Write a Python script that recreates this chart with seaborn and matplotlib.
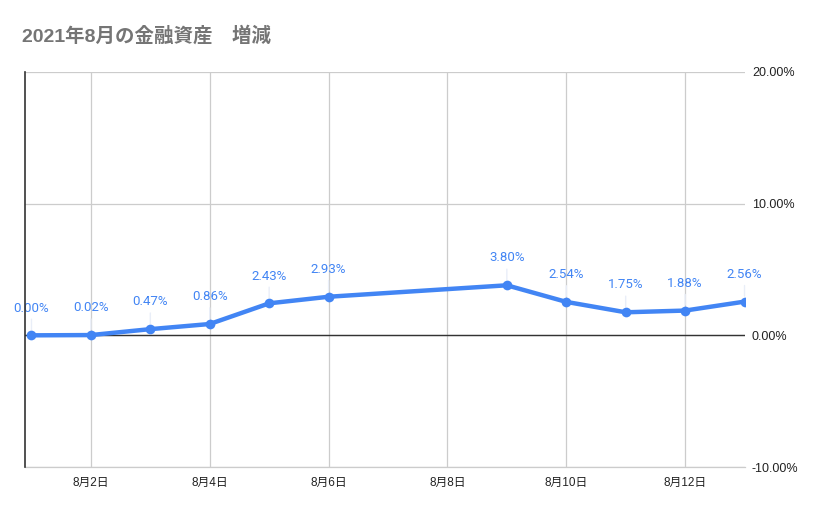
import pandas as pd
import matplotlib
matplotlib.use('Agg')
import matplotlib.pyplot as plt
import matplotlib.dates as mdates
import matplotlib.ticker as mticker
import seaborn as sns

# 2021年8月 金融資産の増減率 (%)
dates = ['2021-08-01', '2021-08-02', '2021-08-03', '2021-08-04', '2021-08-05',
         '2021-08-06', '2021-08-09', '2021-08-10', '2021-08-11', '2021-08-12',
         '2021-08-13']
changes = [0.00, 0.02, 0.47, 0.86, 2.43, 2.93, 3.80, 2.54, 1.75, 1.88, 2.56]
y_ticks = [-10, 0, 10, 20]

df = pd.DataFrame({'date': pd.to_datetime(dates), 'change': changes})

sns.set_style('white')
plt.rcParams['font.family'] = ['Liberation Sans', 'Noto Sans CJK JP']
plt.rcParams['axes.unicode_minus'] = False

blue = '#4285f4'
fig = plt.figure(figsize=(8.29, 5.14), dpi=100)
ax = fig.add_axes([0.0302, 0.0914, 0.8685, 0.7686])

sns.lineplot(data=df, x='date', y='change', ax=ax, color=blue, linewidth=3.2,
             marker='o', markersize=7, markeredgewidth=0, zorder=5)

for d, v in zip(df['date'], df['change']):
    ax.annotate(f'{v:.2f}%', xy=(d, v), xytext=(0, 15), textcoords='offset points',
                ha='center', va='bottom', color=blue, fontsize=9.5,
                family=['Roboto', 'DejaVu Sans'],
                arrowprops=dict(arrowstyle='-', color='#e9eef8', lw=1,
                                shrinkA=1, shrinkB=4))

ax.set_xlim(pd.Timestamp('2021-08-01') - pd.Timedelta(hours=2.6),
            pd.Timestamp('2021-08-13') + pd.Timedelta(hours=0.2))
ax.set_ylim(-10, 20)
ax.set_yticks(y_ticks)
ax.yaxis.set_major_formatter(mticker.FuncFormatter(lambda v, p: f'{v:.2f}%'))
ax.yaxis.tick_right()
ax.xaxis.set_major_locator(mdates.DayLocator(bymonthday=[2, 4, 6, 8, 10, 12]))
ax.xaxis.set_major_formatter(mticker.FuncFormatter(
    lambda v, p: f'{mdates.num2date(v).month}月{mdates.num2date(v).day}日'))
ax.tick_params(axis='both', length=0, labelsize=9, colors='#222222')
ax.tick_params(axis='x', labelsize=8.5, pad=7)
ax.tick_params(axis='y', pad=5)

ax.grid(True, color='#cccccc', linewidth=0.9)
ax.axhline(0, color='#333333', linewidth=1, zorder=3)
for side in ['top', 'right']:
    ax.spines[side].set_visible(False)
ax.spines['bottom'].set_color('#cccccc')
ax.spines['bottom'].set_linewidth(0.9)
ax.spines['left'].set_color('#333333')
ax.spines['left'].set_linewidth(1.2)
ax.spines['left'].set_zorder(4)
ax.set_xlabel('')
ax.set_ylabel('')

fig.text(0.026, 0.93, '2021年8月の金融資産\u3000増減', fontsize=14, fontweight='bold',
         color='#757575', va='center', ha='left')

plt.savefig('out.png', dpi=100)
